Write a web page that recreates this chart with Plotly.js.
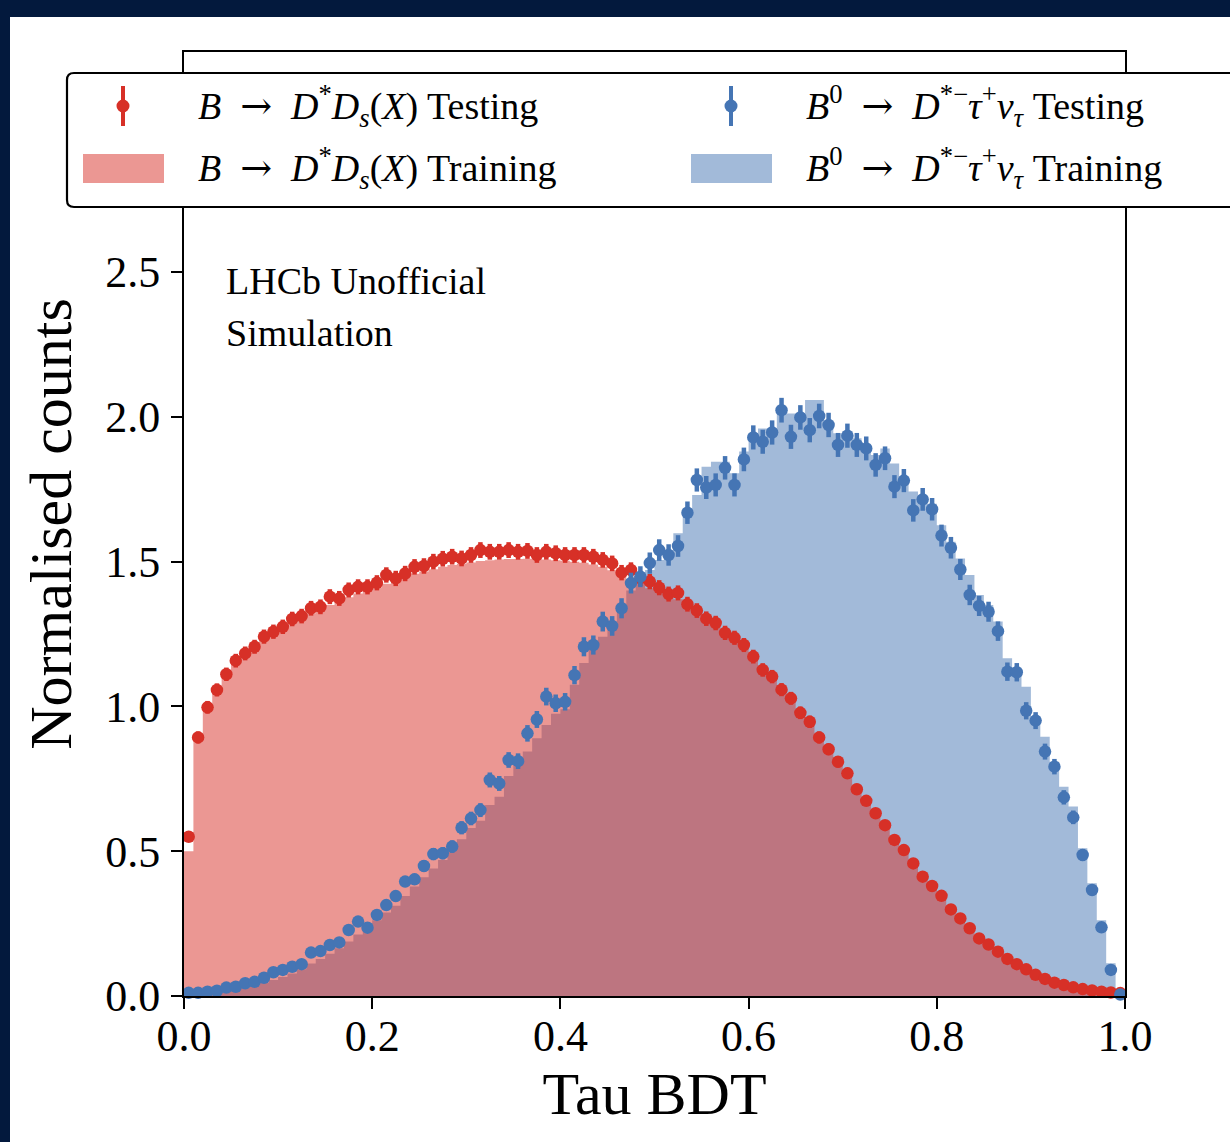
<!DOCTYPE html>
<html>
<head>
<meta charset="utf-8">
<script src="https://cdn.plot.ly/plotly-3.0.1.min.js"></script>
<style>
  html, body { margin: 0; padding: 0; background: #03193d; width: 1230px; height: 1142px; overflow: hidden; }
  #plot { position: absolute; left: 10px; top: 17px; width: 1220px; height: 1125px; background: #ffffff; }
</style>
</head>
<body>
<div id="plot"></div>
<script>
// ---- Data ----
const nBins = 100;
const xMin = 0.0;
const xMax = 1.0;

const redTesting = [
  0.550, 0.893, 0.997, 1.057, 1.111, 1.158, 1.183, 1.206, 1.241, 1.258,
  1.275, 1.302, 1.312, 1.339, 1.344, 1.379, 1.373, 1.402, 1.413, 1.413,
  1.427, 1.454, 1.442, 1.459, 1.482, 1.485, 1.500, 1.510, 1.517, 1.511,
  1.523, 1.540, 1.534, 1.534, 1.540, 1.534, 1.537, 1.523, 1.534, 1.529,
  1.523, 1.523, 1.523, 1.517, 1.506, 1.494, 1.462, 1.471, 1.442, 1.431,
  1.410, 1.388, 1.392, 1.353, 1.331, 1.303, 1.288, 1.254, 1.237, 1.212,
  1.172, 1.126, 1.103, 1.058, 1.028, 0.978, 0.947, 0.893, 0.852, 0.809,
  0.769, 0.714, 0.674, 0.631, 0.590, 0.539, 0.504, 0.458, 0.412, 0.380,
  0.346, 0.299, 0.268, 0.234, 0.199, 0.178, 0.153, 0.128, 0.110, 0.092,
  0.073, 0.059, 0.046, 0.038, 0.030, 0.024, 0.019, 0.015, 0.012, 0.010
];

const redTraining = [
  0.500, 0.885, 0.990, 1.050, 1.100, 1.145, 1.175, 1.200, 1.230, 1.250,
  1.268, 1.290, 1.305, 1.322, 1.334, 1.350, 1.362, 1.377, 1.390, 1.400,
  1.410, 1.424, 1.434, 1.446, 1.458, 1.466, 1.474, 1.482, 1.488, 1.492,
  1.497, 1.502, 1.505, 1.507, 1.509, 1.509, 1.510, 1.508, 1.507, 1.505,
  1.503, 1.500, 1.496, 1.490, 1.482, 1.470, 1.455, 1.440, 1.425, 1.408,
  1.395, 1.382, 1.370, 1.350, 1.328, 1.303, 1.282, 1.257, 1.232, 1.205,
  1.170, 1.133, 1.098, 1.060, 1.023, 0.980, 0.940, 0.896, 0.853, 0.810,
  0.766, 0.718, 0.674, 0.630, 0.588, 0.543, 0.501, 0.460, 0.418, 0.380,
  0.343, 0.303, 0.270, 0.236, 0.203, 0.176, 0.150, 0.126, 0.106, 0.088,
  0.071, 0.058, 0.046, 0.036, 0.028, 0.022, 0.017, 0.013, 0.010, 0.008
];

const blueTesting = [
  0.011, 0.011, 0.015, 0.018, 0.029, 0.032, 0.044, 0.049, 0.063, 0.082,
  0.090, 0.101, 0.110, 0.150, 0.155, 0.176, 0.185, 0.228, 0.257, 0.236,
  0.280, 0.314, 0.345, 0.395, 0.403, 0.449, 0.490, 0.493, 0.516, 0.581,
  0.613, 0.642, 0.746, 0.734, 0.815, 0.811, 0.907, 0.955, 1.034, 1.011,
  1.016, 1.108, 1.206, 1.212, 1.293, 1.278, 1.339, 1.426, 1.448, 1.495,
  1.540, 1.523, 1.554, 1.669, 1.782, 1.756, 1.765, 1.824, 1.765, 1.853,
  1.929, 1.914, 1.946, 2.023, 1.931, 1.998, 1.954, 2.003, 1.972, 1.903,
  1.935, 1.903, 1.891, 1.834, 1.857, 1.759, 1.780, 1.677, 1.715, 1.681,
  1.590, 1.548, 1.473, 1.385, 1.347, 1.327, 1.260, 1.120, 1.118, 0.985,
  0.951, 0.844, 0.792, 0.686, 0.617, 0.487, 0.366, 0.237, 0.090, 0.005
];

const blueTraining = [
  0.004, 0.006, 0.008, 0.012, 0.016, 0.022, 0.028, 0.036, 0.045, 0.055,
  0.066, 0.078, 0.092, 0.112, 0.128, 0.146, 0.165, 0.188, 0.212, 0.236,
  0.262, 0.288, 0.312, 0.345, 0.378, 0.410, 0.440, 0.470, 0.505, 0.541,
  0.580, 0.605, 0.660, 0.688, 0.760, 0.800, 0.844, 0.890, 0.936, 0.975,
  0.990, 1.075, 1.150, 1.215, 1.241, 1.275, 1.339, 1.400, 1.436, 1.471,
  1.506, 1.517, 1.598, 1.672, 1.730, 1.828, 1.845, 1.845, 1.805, 1.880,
  1.943, 1.960, 1.960, 2.012, 2.012, 2.006, 2.058, 2.058, 1.983, 1.943,
  1.931, 1.926, 1.891, 1.868, 1.891, 1.839, 1.785, 1.742, 1.720, 1.700,
  1.626, 1.569, 1.511, 1.454, 1.385, 1.350, 1.293, 1.166, 1.130, 1.068,
  0.950, 0.895, 0.809, 0.723, 0.654, 0.510, 0.389, 0.262, 0.113, 0.009
];

const xTickVals = [0.0, 0.2, 0.4, 0.6, 0.8, 1.0];
const xTickText = ["0.0", "0.2", "0.4", "0.6", "0.8", "1.0"];
const yTickVals = [0.0, 0.5, 1.0, 1.5, 2.0, 2.5];
const yTickText = ["0.0", "0.5", "1.0", "1.5", "2.0", "2.5"];

const ARROW = '\u2002<span style="font-family:\'DejaVu Serif\'">\u2192</span>\u2002';
const labelRedTest  = '<i>B</i>' + ARROW + '<i>D</i><sup>*</sup><i>D</i><sub><i>s</i></sub>(<i>X</i>) Testing';
const labelRedTrain = '<i>B</i>' + ARROW + '<i>D</i><sup>*</sup><i>D</i><sub><i>s</i></sub>(<i>X</i>) Training';
const labelBlueTest  = '<i>B</i><sup>0</sup>' + ARROW + '<i>D</i><sup>*\u2212</sup><i>\u03C4</i><sup>+</sup><i>\u03BD</i><sub><i>\u03C4</i></sub> Testing';
const labelBlueTrain = '<i>B</i><sup>0</sup>' + ARROW + '<i>D</i><sup>*\u2212</sup><i>\u03C4</i><sup>+</sup><i>\u03BD</i><sub><i>\u03C4</i></sub> Training';

// ---- Styles ----
const RED = '#d73027';
const BLUE = '#4575b4';
const RED_FILL = 'rgba(215,48,39,0.5)';
const BLUE_FILL = 'rgba(69,117,180,0.5)';
const FONT = '"Liberation Serif", "DejaVu Serif", serif';

// bin geometry (binning definition, not data)
const binWidth = (xMax - xMin) / nBins;
const binEdges = Array.from({length: nBins + 1}, (_, i) => +(xMin + i * binWidth).toFixed(4));
const binCenters = Array.from({length: nBins}, (_, i) => +(xMin + (i + 0.5) * binWidth).toFixed(4));

function stepY(vals) { return vals.concat([vals[vals.length - 1]]); }
function poissonLikeErr(vals, k) { return vals.map(v => k * Math.sqrt(Math.max(v, 0))); }

const traces = [
  {
    type: 'scatter', mode: 'lines', name: 'blue training',
    x: binEdges, y: stepY(blueTraining),
    line: {shape: 'hv', width: 0, color: BLUE_FILL},
    fill: 'tozeroy', fillcolor: BLUE_FILL, showlegend: false, hoverinfo: 'skip'
  },
  {
    type: 'scatter', mode: 'lines', name: 'red training',
    x: binEdges, y: stepY(redTraining),
    line: {shape: 'hv', width: 0, color: RED_FILL},
    fill: 'tozeroy', fillcolor: RED_FILL, showlegend: false, hoverinfo: 'skip'
  },
  {
    type: 'scatter', mode: 'markers', name: 'red testing',
    x: binCenters, y: redTesting,
    marker: {color: RED, size: 12.5},
    error_y: {type: 'data', array: poissonLikeErr(redTesting, 0.022), visible: true, color: RED, thickness: 4.5, width: 0},
    cliponaxis: false, showlegend: false
  },
  {
    type: 'scatter', mode: 'markers', name: 'blue testing',
    x: binCenters, y: blueTesting,
    marker: {color: BLUE, size: 12.5},
    error_y: {type: 'data', array: poissonLikeErr(blueTesting, 0.03), visible: true, color: BLUE, thickness: 4.5, width: 0},
    cliponaxis: false, showlegend: false
  }
];

// ---- Geometry helpers (page pixels -> paper fractions) ----
const DIV_X = 10, DIV_Y = 17;
const M = {l: 174, r: 105, t: 35, b: 146};
const W = 1220, H = 1125;
const PW = W - M.l - M.r, PH = H - M.t - M.b;
function px(xPage) { return (xPage - DIV_X - M.l) / PW; }
function py(yPage) { return 1 - (yPage - DIV_Y - M.t) / PH; }

function roundedBox(x0, y0, x1, y1, r) {
  const P = (x, y) => px(x).toFixed(5) + ',' + py(y).toFixed(5);
  return 'M' + P(x0 + r, y0) +
    ' L' + P(x1 - r, y0) + ' Q' + P(x1, y0) + ' ' + P(x1, y0 + r) +
    ' L' + P(x1, y1 - r) + ' Q' + P(x1, y1) + ' ' + P(x1 - r, y1) +
    ' L' + P(x0 + r, y1) + ' Q' + P(x0, y1) + ' ' + P(x0, y1 - r) +
    ' L' + P(x0, y0 + r) + ' Q' + P(x0, y0) + ' ' + P(x0 + r, y0) + ' Z';
}

const row1 = 106, row2 = 168;
const shapes = [
  {type: 'path', xref: 'paper', yref: 'paper', layer: 'above',
   path: roundedBox(67, 73, 1262, 207, 7), fillcolor: '#ffffff', line: {color: '#000000', width: 2.2}},
  // red testing symbol
  {type: 'line', xref: 'paper', yref: 'paper', layer: 'above',
   x0: px(123), x1: px(123), y0: py(row1 - 20), y1: py(row1 + 20), line: {color: RED, width: 4}},
  {type: 'circle', xref: 'paper', yref: 'paper', layer: 'above',
   x0: px(116.5), x1: px(129.5), y0: py(row1 + 6.5), y1: py(row1 - 6.5), fillcolor: RED, line: {width: 0}},
  // red training swatch
  {type: 'rect', xref: 'paper', yref: 'paper', layer: 'above',
   x0: px(83), x1: px(164), y0: py(row2 + 15), y1: py(row2 - 14), fillcolor: RED_FILL, line: {width: 0}},
  // blue testing symbol
  {type: 'line', xref: 'paper', yref: 'paper', layer: 'above',
   x0: px(731), x1: px(731), y0: py(row1 - 20), y1: py(row1 + 20), line: {color: BLUE, width: 4}},
  {type: 'circle', xref: 'paper', yref: 'paper', layer: 'above',
   x0: px(724.5), x1: px(737.5), y0: py(row1 + 6.5), y1: py(row1 - 6.5), fillcolor: BLUE, line: {width: 0}},
  // blue training swatch
  {type: 'rect', xref: 'paper', yref: 'paper', layer: 'above',
   x0: px(691), x1: px(772), y0: py(row2 + 15), y1: py(row2 - 14), fillcolor: BLUE_FILL, line: {width: 0}}
];

const legFont = {family: FONT, size: 38, color: '#000000'};
const annotations = [
  {xref: 'paper', yref: 'paper', x: px(196), y: py(row1), xanchor: 'left', yanchor: 'middle', text: labelRedTest, showarrow: false, font: legFont},
  {xref: 'paper', yref: 'paper', x: px(196), y: py(row2), xanchor: 'left', yanchor: 'middle', text: labelRedTrain, showarrow: false, font: legFont},
  {xref: 'paper', yref: 'paper', x: px(804), y: py(row1), xanchor: 'left', yanchor: 'middle', text: labelBlueTest, showarrow: false, font: legFont},
  {xref: 'paper', yref: 'paper', x: px(804), y: py(row2), xanchor: 'left', yanchor: 'middle', text: labelBlueTrain, showarrow: false, font: legFont},
  {xref: 'paper', yref: 'paper', x: px(224), y: py(281), xanchor: 'left', yanchor: 'middle', text: 'LHCb Unofficial', showarrow: false,
   font: {family: FONT, size: 38, color: '#000000'}},
  {xref: 'paper', yref: 'paper', x: px(224), y: py(333), xanchor: 'left', yanchor: 'middle', text: 'Simulation', showarrow: false,
   font: {family: FONT, size: 38, color: '#000000'}}
];

const axisCommon = {
  showline: true, linecolor: '#000000', linewidth: 2, mirror: true,
  ticks: 'outside', ticklen: 11, tickwidth: 2, tickcolor: '#000000',
  showgrid: false, zeroline: false,
  tickfont: {family: FONT, size: 44, color: '#000000'},
  automargin: false
};

const layout = {
  width: W, height: H,
  margin: M,
  paper_bgcolor: '#ffffff', plot_bgcolor: '#ffffff',
  showlegend: false,
  xaxis: Object.assign({}, axisCommon, {
    range: [xMin, xMax], tickmode: 'array', tickvals: xTickVals, ticktext: xTickText,
    ticklabelstandoff: -11,
    title: {text: 'Tau BDT', font: {family: FONT, size: 60, color: '#000000'}, standoff: 10}
  }),
  yaxis: Object.assign({}, axisCommon, {
    range: [0, 3.26], tickmode: 'array', tickvals: yTickVals, ticktext: yTickText,
    ticklabelstandoff: 2,
    title: {text: 'Normalised counts', font: {family: FONT, size: 60, color: '#000000'}, standoff: 14}
  }),
  shapes: shapes,
  annotations: annotations
};

Plotly.newPlot('plot', traces, layout, {displayModeBar: false, responsive: false});
</script>
</body>
</html>
